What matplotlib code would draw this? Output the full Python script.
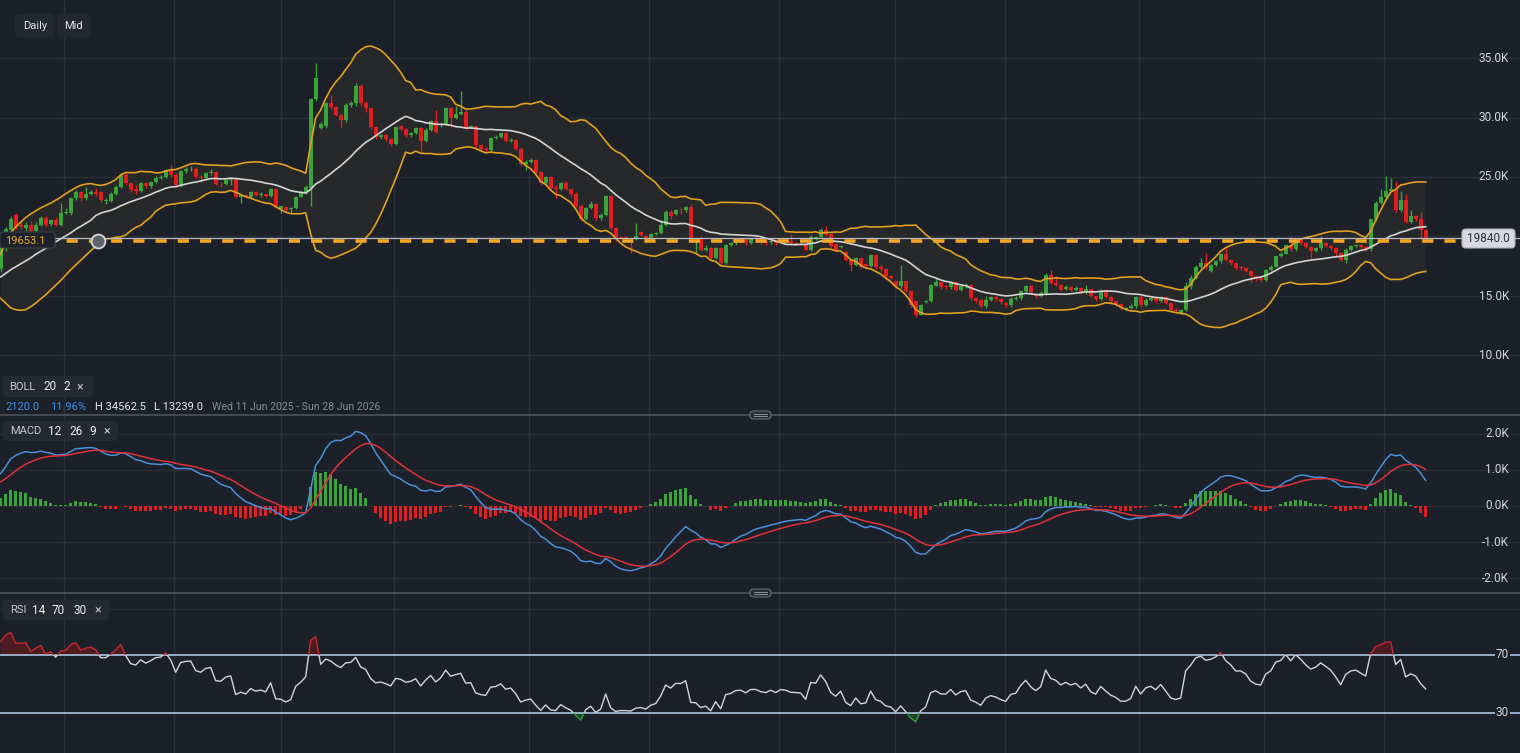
import numpy as np
import pandas as pd
import matplotlib
matplotlib.use("Agg")
import matplotlib.pyplot as plt
from matplotlib.patches import FancyBboxPatch, Rectangle
from matplotlib.lines import Line2D
import matplotlib.transforms as mtransforms

plt.rcParams['font.family'] = ['Roboto', 'DejaVu Sans']
plt.rcParams['lines.scale_dashes'] = False

# ---------------- data (prices in thousands) ----------------
opens = [17.3, 19.0, 20.55, 21.8, 21.0, 20.7, 21.0, 20.5, 21.0, 21.55,
         21.05, 21.4, 21.0, 21.95, 21.95, 23.2, 23.7, 23.2, 23.55, 23.7,
         23.7, 22.95, 23.0, 23.57, 24.19, 25.17, 24.47, 23.95, 23.8, 24.47,
         24.24, 24.55, 24.94, 25.03, 25.58, 25.17, 24.33, 25.5, 25.64, 25.69,
         25.03, 24.9, 25.3, 25.4, 24.44, 24.4, 24.75, 24.86, 23.28, 23.47,
         23.3, 23.7, 23.47, 23.55, 23.4, 24.03, 22.35, 22.5, 22.3, 22.4,
         23.36, 23.7, 24.1, 31.53, 29.15, 29.3, 31.19, 30.86, 30.2, 29.75,
         31.05, 31.2, 32.67, 31.19, 30.78, 29.17, 28.33, 28.5, 28.2, 27.8,
         29.3, 29.0, 28.55, 28.7, 29.1, 28.05, 28.97, 29.72, 29.35, 29.45,
         30.83, 30.0, 30.28, 30.5, 29.17, 29.25, 27.67, 27.39, 27.25, 28.28,
         28.36, 28.7, 28.0, 28.14, 27.39, 26.1, 26.3, 26.4, 25.44, 24.5,
         25.0, 24.1, 23.97, 24.5, 23.97, 23.55, 22.58, 21.47, 22.39, 22.72,
         21.53, 21.83, 23.42, 20.72, 19.95, 19.95, 19.88, 19.8, 20.4, 20.05,
         19.85, 20.18, 20.32, 20.97, 22.08, 21.85, 22.25, 22.2, 22.5, 19.6,
         19.9, 18.85, 19.0, 18.17, 19.0, 17.75, 19.28, 19.42, 19.75, 19.8,
         19.45, 19.9, 19.75, 19.6, 19.5, 19.65, 19.75, 19.65, 19.65, 19.42,
         19.4, 19.3, 18.86, 19.75, 19.92, 20.53, 20.25, 19.36, 19.08, 18.72,
         18.03, 17.61, 18.17, 17.69, 17.53, 18.44, 17.47, 17.25, 16.64, 16.22,
         15.81, 16.22, 15.39, 14.56, 13.44, 14.5, 14.6, 15.86, 16.14, 15.86,
         15.72, 16.14, 15.53, 15.81, 15.9, 14.83, 14.69, 14.14, 14.69, 14.89,
         14.75, 14.42, 14.28, 14.75, 14.83, 15.39, 15.81, 15.1, 15.0, 15.25,
         16.78, 16.1, 15.94, 15.58, 15.75, 15.53, 15.67, 15.3, 15.58, 14.97,
         14.75, 15.45, 14.92, 14.56, 14.36, 13.86, 14.0, 14.14, 14.89, 14.28,
         14.69, 14.8, 14.56, 14.89, 14.42, 13.86, 13.58, 13.8, 15.86, 16.5,
         17.47, 17.75, 17.1, 17.6, 17.9, 18.53, 18.03, 17.75, 17.45, 17.33,
         17.14, 16.64, 16.5, 16.36, 17.19, 17.47, 18.36, 18.55, 19.29, 18.92,
         19.7, 19.43, 19.08, 18.8, 19.0, 19.43, 19.23, 19.0, 18.58, 18.03,
         18.87, 19.2, 19.29, 19.1, 18.92, 21.44, 22.84, 23.29, 23.85, 23.96,
         22.23, 23.07, 21.25, 21.72, 21.45, 20.55]

closes = [19.0, 20.6, 21.5, 20.82, 20.8, 21.0, 20.45, 21.0, 21.55, 21.0,
          21.35, 21.0, 21.95, 22.1, 23.2, 23.7, 23.2, 23.55, 23.75, 23.6,
          23.1, 23.1, 23.57, 24.19, 25.17, 24.47, 23.9, 23.8, 24.47, 24.24,
          24.55, 24.94, 25.03, 25.58, 25.17, 24.33, 25.5, 25.64, 25.69, 25.03,
          24.9, 25.3, 25.4, 24.44, 24.4, 24.75, 24.86, 23.28, 23.47, 23.3,
          23.7, 23.47, 23.55, 23.4, 24.03, 22.58, 22.55, 22.25, 22.4, 23.36,
          23.7, 24.17, 31.53, 33.36, 29.42, 31.19, 30.86, 30.2, 29.75, 31.05,
          31.2, 32.67, 31.19, 30.78, 29.17, 28.33, 28.5, 28.2, 27.8, 29.17,
          29.0, 28.55, 28.7, 29.1, 28.05, 28.97, 29.72, 28.8, 29.45, 30.83,
          30.0, 30.28, 30.5, 29.17, 29.25, 27.67, 27.39, 27.25, 28.28, 28.36,
          28.7, 28.0, 28.14, 27.39, 26.1, 26.3, 26.4, 25.44, 24.5, 25.0,
          24.1, 23.97, 24.5, 23.97, 23.55, 22.58, 21.47, 22.39, 22.72, 21.53,
          21.83, 23.42, 20.72, 19.8, 19.9, 19.88, 19.8, 20.07, 20.14, 19.85,
          20.18, 20.32, 20.97, 22.08, 21.72, 22.23, 22.2, 22.5, 19.76, 19.7,
          18.86, 19.0, 18.17, 19.0, 17.75, 19.28, 19.42, 19.75, 19.8, 19.45,
          19.8, 19.8, 19.55, 19.45, 19.65, 19.42, 19.65, 19.6, 19.42, 19.4,
          19.36, 18.86, 19.97, 19.92, 20.58, 20.11, 19.2, 18.83, 19.2, 18.03,
          17.61, 18.17, 17.47, 17.53, 18.44, 17.47, 17.25, 16.64, 16.5, 15.81,
          16.22, 15.39, 14.28, 13.44, 14.28, 14.6, 15.94, 16.14, 15.75, 15.72,
          16.14, 15.53, 15.81, 15.9, 14.83, 14.56, 14.14, 14.69, 14.89, 14.75,
          14.47, 14.28, 14.75, 14.83, 15.39, 15.81, 15.3, 14.97, 15.25, 16.78,
          16.1, 15.94, 15.53, 15.75, 15.53, 15.67, 15.3, 15.58, 14.97, 14.75,
          15.3, 14.92, 14.56, 14.36, 14.0, 14.0, 14.14, 14.89, 14.28, 14.69,
          14.8, 14.56, 14.89, 14.42, 13.86, 13.72, 13.8, 15.86, 16.5, 17.47,
          17.75, 17.47, 17.6, 17.9, 18.53, 18.03, 17.75, 17.33, 17.33, 17.14,
          16.64, 16.42, 16.36, 17.19, 17.47, 18.36, 18.55, 19.29, 18.92, 19.7,
          19.43, 19.08, 18.8, 19.0, 19.43, 19.23, 19.0, 18.58, 18.03, 18.87,
          19.2, 19.29, 19.1, 18.92, 21.44, 22.84, 23.29, 23.85, 23.96, 22.23,
          23.07, 21.25, 21.72, 21.45, 20.55, 19.84]

highs = [19.2, 20.8, 21.7, 22.0, 21.4, 21.2, 21.3, 21.2, 21.7, 21.7,
         21.5, 21.6, 22.8, 22.4, 23.3, 23.9, 23.8, 24.2, 23.9, 24.1,
         23.8, 23.2, 23.7, 24.3, 25.3, 25.3, 24.6, 24.3, 24.6, 24.6,
         24.7, 25.1, 25.2, 25.7, 26.0, 25.3, 25.6, 25.8, 25.9, 25.8,
         25.2, 25.4, 25.7, 25.5, 24.6, 24.9, 25.0, 24.9, 23.6, 23.6,
         23.8, 23.8, 23.7, 23.6, 24.1, 24.1, 22.6, 22.6, 22.5, 23.4,
         23.8, 24.3, 31.6, 34.5625, 29.6, 31.3, 31.9, 31.0, 30.4, 31.2,
         31.4, 32.9, 32.8, 31.4, 30.9, 29.3, 28.6, 28.6, 28.3, 29.3,
         29.4, 29.1, 28.8, 29.2, 29.2, 29.1, 29.8, 30.6, 29.6, 30.9,
         30.9, 31.0, 32.2, 30.6, 29.4, 29.3, 27.8, 27.5, 28.4, 28.5,
         28.8, 28.8, 28.3, 28.2, 27.5, 26.4, 26.6, 26.5, 25.5, 25.1,
         25.1, 24.3, 24.6, 24.7, 24.0, 23.7, 22.7, 22.5, 23.0, 22.8,
         22.0, 23.5, 23.5, 20.8, 20.0, 20.0, 19.95, 21.1, 20.5, 20.1,
         20.3, 20.4, 21.4, 22.2, 22.2, 22.3, 22.5, 22.6, 22.7, 19.8,
         20.0, 19.3, 19.1, 19.1, 19.1, 19.4, 19.5, 19.9, 19.9, 19.9,
         19.9, 20.0, 19.8, 19.7, 19.8, 19.7, 19.8, 19.7, 20.25, 19.5,
         19.45, 19.4, 20.1, 20.0, 20.7, 20.85, 20.3, 19.4, 19.3, 18.8,
         18.1, 18.3, 18.2, 17.8, 18.5, 18.5, 17.6, 17.3, 16.8, 16.3,
         17.6, 16.3, 15.45, 14.6, 14.35, 14.7, 16.0, 16.5, 16.2, 15.95,
         16.2, 16.2, 15.9, 16.1, 16.0, 14.9, 14.8, 15.0, 15.0, 15.0,
         14.8, 14.5, 14.9, 15.0, 15.5, 15.9, 15.9, 15.2, 15.4, 16.9,
         17.2, 16.7, 16.0, 15.9, 15.8, 15.8, 15.75, 15.9, 15.6, 15.0,
         15.6, 15.6, 15.0, 14.6, 14.4, 14.1, 14.3, 15.0, 15.1, 14.8,
         14.9, 14.9, 15.0, 15.0, 14.5, 13.95, 13.9, 16.2, 16.8, 17.6,
         18.2, 18.6, 17.7, 18.0, 18.6, 19.0, 18.1, 17.8, 17.5, 17.4,
         17.2, 16.7, 16.6, 17.3, 17.6, 18.4, 18.7, 19.4, 20.04, 19.8,
         19.8, 19.5, 19.2, 19.1, 20.04, 19.5, 19.3, 19.1, 18.7, 19.0,
         19.3, 19.4, 19.4, 19.2, 21.5, 23.0, 24.0, 25.08, 24.9, 24.7,
         23.8, 23.6, 22.2, 21.8, 22.1, 20.6]

lows = [17.0, 18.8, 20.4, 20.6, 20.6, 20.5, 20.3, 20.4, 20.9, 20.9,
        20.9, 20.9, 20.9, 21.9, 21.8, 23.1, 23.0, 23.1, 23.5, 23.4,
        22.9, 22.7, 22.9, 23.5, 24.1, 24.3, 23.7, 23.6, 23.7, 24.1,
        24.1, 24.5, 24.8, 24.9, 25.0, 24.2, 24.2, 25.3, 25.5, 24.9,
        24.6, 24.8, 25.2, 24.3, 24.2, 24.3, 24.3, 23.2, 22.8, 23.2,
        23.2, 23.4, 23.3, 23.3, 23.3, 22.5, 22.0, 22.1, 22.0, 22.3,
        23.3, 23.6, 22.6, 31.4, 29.0, 29.1, 30.7, 30.1, 29.2, 29.6,
        30.9, 31.0, 31.0, 30.5, 29.0, 28.2, 28.2, 28.0, 27.6, 27.7,
        28.9, 28.4, 28.4, 28.6, 27.1, 27.9, 28.9, 28.7, 29.2, 29.4,
        29.2, 29.9, 30.2, 29.0, 29.1, 27.5, 27.3, 27.1, 27.1, 28.2,
        28.3, 27.9, 27.9, 27.3, 25.9, 25.6, 26.2, 25.3, 24.3, 24.4,
        24.0, 23.2, 23.9, 23.9, 23.3, 22.5, 21.3, 21.4, 22.3, 21.4,
        21.4, 21.7, 20.6, 19.6, 19.8, 19.8, 18.6, 19.7, 20.0, 19.7,
        19.7, 20.1, 20.2, 20.9, 21.5, 21.8, 21.9, 22.1, 19.6, 18.6,
        18.8, 18.8, 18.0, 18.1, 17.6, 17.7, 19.2, 19.3, 19.7, 19.3,
        19.4, 19.7, 19.4, 19.3, 19.4, 19.3, 19.5, 19.5, 19.35, 19.3,
        19.25, 18.8, 18.8, 19.7, 19.9, 20.0, 19.1, 18.7, 19.0, 17.9,
        17.14, 17.5, 17.25, 17.4, 17.4, 17.3, 17.1, 16.4, 16.4, 15.7,
        15.7, 15.3, 14.1, 13.239, 13.4, 14.4, 14.5, 15.8, 15.6, 15.6,
        15.6, 15.4, 15.4, 15.7, 14.7, 14.4, 14.0, 14.0, 14.6, 14.6,
        14.3, 14.1, 14.1, 14.7, 14.7, 15.3, 15.2, 14.8, 14.9, 15.1,
        16.0, 15.8, 15.4, 15.5, 15.4, 15.4, 15.2, 15.2, 14.9, 14.6,
        14.7, 14.8, 14.4, 14.2, 13.8, 13.8, 13.9, 14.0, 14.1, 14.2,
        14.6, 14.4, 14.5, 14.3, 13.7, 13.6, 13.5, 13.7, 15.6, 16.4,
        17.3, 17.3, 17.0, 17.5, 17.8, 17.9, 17.6, 17.2, 17.2, 17.0,
        16.2, 16.3, 16.2, 16.3, 17.1, 17.4, 18.3, 18.5, 18.8, 18.8,
        19.3, 19.0, 18.08, 18.7, 18.9, 19.1, 18.9, 18.4, 17.9, 17.8,
        18.8, 19.1, 19.0, 18.8, 18.8, 21.3, 22.7, 23.2, 23.8, 22.1,
        22.1, 21.1, 21.1, 21.3, 19.8, 19.7]

# Bollinger values for the first 19 bars (before a full 20-bar window exists)
bb_upper_head = [18.5, 19.5, 20.3, 20.8, 21.2, 21.6, 21.9, 22.15, 22.4, 22.6,
                 22.8, 23.05, 23.3, 23.6, 23.85, 24.1, 24.3, 24.4, 24.45]
bb_mid_head = [16.6, 16.9, 17.2, 17.45, 17.7, 17.95, 18.2, 18.5, 18.75, 19.0,
               19.3, 19.55, 19.8, 20.05, 20.3, 20.6, 20.85, 21.1, 21.35]
bb_lower_head = [14.8, 14.4, 14.0, 13.85, 13.8, 13.85, 14.1, 14.4, 14.75, 15.1,
                 15.5, 15.9, 16.3, 16.75, 17.2, 17.6, 18.0, 18.4, 18.8]

# indicator starting states
ema_fast_seed = 17.0
ema_slow_seed = 16.2
signal_seed = 0.62
rsi_gain_seed = 0.25
rsi_loss_seed = 0.10

support_level = 19653.1
price_ticks = [10, 15, 20, 25, 30, 35]
macd_ticks = [-2, -1, 0, 1, 2]
rsi_levels = [30, 70]
change_abs = "2120.0"
change_pct = "11.96%"
date_range = "Wed 11 Jun 2025 - Sun 28 Jun 2026"

# ---------------- computations ----------------
o = np.array(opens); c = np.array(closes)
hi = np.maximum(np.array(highs), np.maximum(o, c))
lo = np.minimum(np.array(lows), np.minimum(o, c))
n = len(c)
idx = np.arange(n)

s = pd.Series(c)
mid = s.rolling(20).mean().to_numpy()
sd = s.rolling(20).std(ddof=0).to_numpy()
upper = mid + 2 * sd
lower = mid - 2 * sd
h0 = len(bb_mid_head)
mid[:h0] = bb_mid_head
upper[:h0] = bb_upper_head
lower[:h0] = bb_lower_head


def ema(vals, span, seed):
    a = 2.0 / (span + 1)
    e = seed
    out = []
    for v in vals:
        e = e + a * (v - e)
        out.append(e)
    return np.array(out)


macd = ema(c, 12, ema_fast_seed) - ema(c, 26, ema_slow_seed)
signal = ema(macd, 9, signal_seed)
hist = macd - signal

prev = np.concatenate([[o[0]], c[:-1]])
d = c - prev
g, l = rsi_gain_seed, rsi_loss_seed
rsi = []
for x in d:
    g = (g * 13 + max(x, 0)) / 14
    l = (l * 13 + max(-x, 0)) / 14
    rsi.append(100 - 100 / (1 + g / l))
rsi = np.array(rsi)

# ---------------- styling ----------------
W, H = 1520, 753
BG = '#1b2029'
GRID = '#2a2f38'
GREEN = '#3aa33a'
RED = '#e11d1f'
ORANGE = '#e0a020'
TXT = '#d3d6db'

fig = plt.figure(figsize=(W / 100, H / 100), dpi=100, facecolor=BG)


def fy(y):
    return 1 - y / H


def axes_px(top, bottom):
    a = fig.add_axes([0, fy(bottom), 1, (bottom - top) / H])
    a.set_facecolor(BG)
    for sp in a.spines.values():
        sp.set_visible(False)
    a.set_xticks([]); a.set_yticks([])
    a.set_xlim((0 - 0.67) / 5, (W - 0.67) / 5)
    return a


ax = axes_px(0, 415)
axm = axes_px(415, 593)
axr = axes_px(593, 753)

ax.set_ylim(25 - 238 / 11.9, 25 + 177 / 11.9)
axm.set_ylim(-87 / 36, 91 / 36)
axr.set_ylim(70 - 98 / 1.45, 70 + 62 / 1.45)

vgrid_px = [64, 174, 281, 394, 529, 649, 779, 895, 1005, 1139, 1264, 1384]
for a in (ax, axm, axr):
    for xp in vgrid_px:
        a.axvline((xp - 0.67) / 5, color=GRID, lw=1, zorder=0)
for t in price_ticks:
    ax.axhline(t, color=GRID, lw=1, zorder=0)
for t in macd_ticks:
    axm.axhline(t, color=GRID, lw=1, zorder=0)
axr.axhline(101.5, color=GRID, lw=1, zorder=0)

# Bollinger fill
ax.fill_between(idx, lower, upper, color='#262829', zorder=1, lw=0)

# candles
up = c >= o
cols = np.where(up, GREEN, RED)
ax.vlines(idx, lo, hi, colors=cols, lw=1, zorder=2)
body_h = np.maximum(np.abs(c - o), 0.05)
ax.bar(idx, body_h, bottom=np.minimum(o, c), width=0.8, color=cols, lw=0, zorder=3)

ax.plot(idx, upper, color=ORANGE, lw=1.2, zorder=4)
ax.plot(idx, lower, color=ORANGE, lw=1.2, zorder=4)
ax.plot(idx, mid, color='#d4d4d4', lw=1.2, zorder=4)

last = c[-1] * 1000
ax.axhline(last / 1000, color='#b8bcc2', lw=0.9, zorder=5)
ax.axhline(support_level / 1000, color='#f5a623', lw=2.6, ls=(0, (8, 8)), zorder=6,
           xmax=1459 / W)
ax.plot([(98 - 0.67) / 5], [support_level / 1000], 'o', ms=10, mfc='#60646b',
        mec='#d8d8d8', mew=1.3, zorder=7)

tr = mtransforms.blended_transform_factory(ax.transAxes, ax.transData)
for t in price_ticks:
    if t == 20:
        continue
    ax.text(1509 / W, t, f"{t:.1f}K", transform=tr, ha='right', va='center',
            color=TXT, fontsize=8.5, zorder=8)

# MACD
hcols = np.where(hist >= 0, GREEN, RED)
axm.bar(idx, hist, width=0.66, color=hcols, lw=0, zorder=2)
axm.plot(idx, macd, color='#4b8fd8', lw=1.1, zorder=3)
axm.plot(idx, signal, color='#e0323a', lw=1.1, zorder=3)
trm = mtransforms.blended_transform_factory(axm.transAxes, axm.transData)
for t in macd_ticks:
    axm.text(1509 / W, t, f"{t:.1f}K", transform=trm, ha='right', va='center',
             color=TXT, fontsize=8.5)

# RSI
for lv in rsi_levels:
    axr.axhline(lv, color='#b7d3f0', lw=1.1, zorder=2)
axr.fill_between(idx, rsi, 70, where=rsi >= 70, interpolate=True, color='#4c1c21', lw=0, zorder=1)
axr.fill_between(idx, rsi, 30, where=rsi <= 30, interpolate=True, color='#1d4524', lw=0, zorder=1)
for color, (y0, y1) in (('#d4d4d4', (30, 70)), ('#c62a2e', (70, 200)), ('#2e9e3a', (-100, 30))):
    ln, = axr.plot(idx, rsi, color=color, lw=1.0, zorder=3)
    clip = Rectangle((-10, y0), 400, y1 - y0, transform=axr.transData)
    ln.set_clip_path(clip)
trr = mtransforms.blended_transform_factory(axr.transAxes, axr.transData)
for lv in rsi_levels:
    axr.text(1509 / W, lv, f"{lv}", transform=trr, ha='right', va='center',
             color=TXT, fontsize=8.5, zorder=5,
             bbox=dict(boxstyle='square,pad=0.1', fc=BG, ec='none'))


# ---------------- overlay texts / boxes ----------------
def box(x0, y0, x1, y1, fc, ec='none', lw=0.8, z=10):
    p = FancyBboxPatch((x0 / W, fy(y1)), (x1 - x0) / W, (y1 - y0) / H,
                       boxstyle='round,pad=0,rounding_size=0.0025',
                       mutation_aspect=W / H, transform=fig.transFigure,
                       fc=fc, ec=ec, lw=lw, zorder=z)
    fig.add_artist(p)


def txt(x, y, s, color=TXT, size=8, weight='normal', ha='left', z=11):
    fig.text(x / W, fy(y), s, color=color, fontsize=size, weight=weight,
             ha=ha, va='center', zorder=z)


# separators
for ys in (415, 593):
    fig.add_artist(Line2D([0, 1], [fy(ys), fy(ys)], color='#4d525b', lw=1.2,
                          transform=fig.transFigure, zorder=9))
    box(750, ys - 4, 771, ys + 4, '#2a2e36', ec='#666b74', lw=0.8)
    for dy in (-1.2, 1.2):
        fig.add_artist(Line2D([754 / W, 767 / W], [fy(ys + dy), fy(ys + dy)],
                              color='#9a9ea6', lw=0.6, transform=fig.transFigure, zorder=11))

box(15, 14, 54, 37, '#23272f')
box(57, 14, 90, 37, '#23272f')
txt(23, 26, "Daily", color='#e2e4e8', size=8)
txt(64, 26, "Mid", color='#e2e4e8', size=8)

box(3, 376, 93, 397, '#252930')
txt(9, 386.5, "BOLL", color='#c4c7cc', size=8)
txt(43, 386.5, "20", color='#eceef1', size=8.5)
txt(63, 386.5, "2", color='#eceef1', size=8.5)
txt(76, 386.5, "×", color='#c4c7cc', size=9)

txt(5, 407, change_abs, color='#3d8ee6', size=8)
txt(50, 407, change_pct, color='#3d8ee6', size=8)
txt(95, 407, f"H {hi.max() * 1000:.1f}", color='#e6e8eb', size=8)
txt(154, 407, f"L {lo.min() * 1000:.1f}", color='#e6e8eb', size=8)
txt(212, 407, date_range, color='#868b93', size=7.6)

box(3, 421, 118, 441, '#252930')
txt(10, 431, "MACD", color='#c4c7cc', size=8)
txt(48, 431, "12", color='#eceef1', size=8.5)
txt(69, 431, "26", color='#eceef1', size=8.5)
txt(89, 431, "9", color='#eceef1', size=8.5)
txt(103, 431, "×", color='#c4c7cc', size=9)

box(3, 600, 109, 620, '#252930')
txt(10, 610, "RSI", color='#c4c7cc', size=8)
txt(32, 610, "14", color='#eceef1', size=8.5)
txt(52, 610, "70", color='#eceef1', size=8.5)
txt(74, 610, "30", color='#eceef1', size=8.5)
txt(94, 610, "×", color='#c4c7cc', size=9)

# price labels
box(0, 232, 55, 248, '#1d2129', ec='#3b4049')
txt(5, 240.5, f"{support_level:.1f}", color='#f0a72e', size=8)
box(1462, 229, 1515, 248, '#d6d9de', ec='#aeb2b8')
txt(1488.5, 238.5, f"{last:.1f}", color='#30343b', size=8.5, ha='center')

fig.savefig("out.png", dpi=100, facecolor=BG)
